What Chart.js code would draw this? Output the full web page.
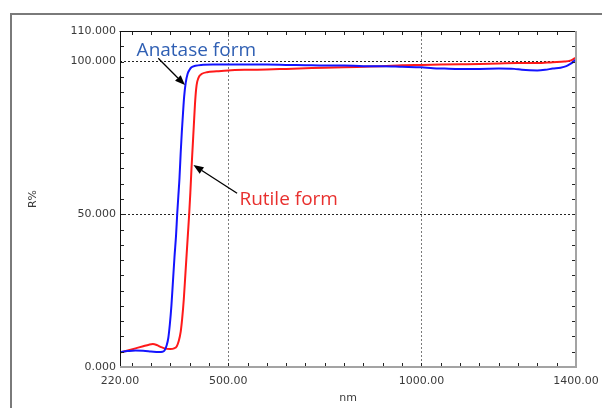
<!DOCTYPE html>
<html>
<head>
<meta charset="utf-8">
<script src="https://cdn.jsdelivr.net/npm/chart.js@4.4.0/dist/chart.umd.min.js"></script>
<style>
  html, body { margin: 0; padding: 0; background: #ffffff; overflow: hidden; }
  #wrap { position: relative; width: 602px; height: 408px; }
  #frame { position: absolute; left: 10px; top: 13px; width: 1000px; height: 1000px;
           border-left: 2px solid #7a7a7a; border-top: 2px solid #7a7a7a; box-sizing: border-box; }
  canvas { position: absolute; left: 0; top: 0; }
</style>
</head>
<body>
<div id="wrap">
  <div id="frame"></div>
  <canvas id="c" width="602" height="408"></canvas>
</div>
<script>
// ---- Data ----
const anataseNm = [220,240,260,280,300,320,330,336,341,345,349,353,357,361,365,368,371,374,377,380,383,386,390,395,400,405,415,430,460,500,550,600,650,700,750,800,850,900,950,1000,1030,1060,1100,1150,1200,1240,1260,1300,1320,1340,1360,1375,1385,1392,1400];
const anataseR  = [4.9,5.2,5.4,5.3,5.1,4.9,5.0,5.6,7.2,9.5,14,20,28,36,43,50,56,62,70,77,83,88.5,93,96,97.3,98.1,98.6,98.9,99.0,99.0,99.0,99.0,98.9,98.8,98.7,98.7,98.5,98.5,98.3,98.1,97.8,97.7,97.6,97.6,97.7,97.6,97.3,97.1,97.3,97.7,98.0,98.5,99.2,99.8,100.7];

const rutileNm = [220,240,260,280,295,305,315,325,335,350,360,367,372,377,381,385,389,393,396,399,402,405,408,411,414,417,420,425,432,445,470,500,550,600,650,700,750,800,850,900,950,1000,1050,1100,1150,1200,1250,1300,1340,1370,1385,1393,1400];
const rutileR  = [4.7,5.4,6.1,6.8,7.3,7.5,7.2,6.6,6.1,5.9,6.1,6.8,8.5,11.5,16,22,30,38,44,50,57,65,72,79,86,91,93.5,95.2,96.0,96.5,96.8,97.1,97.3,97.4,97.6,97.8,98.0,98.1,98.3,98.5,98.8,98.9,99.0,99.1,99.2,99.4,99.5,99.5,99.8,100.0,100.3,100.8,101.3];

// ---- Axes ----
const xTickValues = [220, 500, 1000, 1400];
const yTickValues = [0, 50, 100, 110];
const xGridValues = [500, 1000];
const yGridValues = [50, 100];
const xMinorStep = 50;
const yMinorStep = 5;

// ---- Annotations (data coordinates) ----
const annotations = [
  { text: 'Anatase form', color: '#2f5fb3', textNm: 263, textR: 101.8, tailNm: 319, tailR: 101.1, headNm: 388, headR: 92.3 },
  { text: 'Rutile form',  color: '#e8302e', textNm: 529, textR: 53.0,  tailNm: 523, tailR: 56.9,  headNm: 410, headR: 66.1 }
];

const toXY = (xs, ys) => xs.map((v, i) => ({ x: v, y: ys[i] }));

const axisFont = { family: 'DejaVu Sans', size: 11 };
const axisColor = '#3a3a3a';

const framePlugin = {
  id: 'framePlugin',
  afterDatasetsDraw(chart) {
    const { ctx, chartArea: a, scales: { x, y } } = chart;
    ctx.save();
    const seg = (x1, y1, x2, y2) => { ctx.beginPath(); ctx.moveTo(x1, y1); ctx.lineTo(x2, y2); ctx.stroke(); };
    // minor ticks (inward)
    ctx.strokeStyle = '#222';
    ctx.lineWidth = 1;
    for (let v = Math.ceil(x.min / xMinorStep) * xMinorStep; v < x.max; v += xMinorStep) {
      const px = Math.round(x.getPixelForValue(v)) + 0.5;
      seg(px, a.bottom, px, a.bottom - 4);
      seg(px, a.top, px, a.top + 4);
    }
    for (let v = yMinorStep; v < y.max; v += yMinorStep) {
      const py = Math.round(y.getPixelForValue(v)) + 0.5;
      seg(a.left, py, a.left + 4, py);
      seg(a.right, py, a.right - 4, py);
    }
    // borders
    ctx.strokeStyle = '#111';
    ctx.lineWidth = 1;
    seg(a.left - 0.5, Math.round(a.top) + 0.5, a.right, Math.round(a.top) + 0.5);
    seg(Math.round(a.left) + 0.5, a.top, Math.round(a.left) + 0.5, a.bottom);
    ctx.strokeStyle = '#a3a3a3';
    ctx.lineWidth = 2;
    seg(a.right, a.top, a.right, a.bottom + 1);
    seg(a.left, a.bottom, a.right + 1, a.bottom);

    // annotations
    annotations.forEach(an => {
      const tx = x.getPixelForValue(an.tailNm), ty = y.getPixelForValue(an.tailR);
      const hx = x.getPixelForValue(an.headNm), hy = y.getPixelForValue(an.headR);
      const ang = Math.atan2(hy - ty, hx - tx);
      const L = 10, W = 4;
      const bx = hx - L * Math.cos(ang), by = hy - L * Math.sin(ang);
      ctx.strokeStyle = '#000';
      ctx.fillStyle = '#000';
      ctx.lineWidth = 1.3;
      seg(tx, ty, bx, by);
      ctx.beginPath();
      ctx.moveTo(hx, hy);
      ctx.lineTo(bx + W * Math.sin(ang), by - W * Math.cos(ang));
      ctx.lineTo(bx - W * Math.sin(ang), by + W * Math.cos(ang));
      ctx.closePath();
      ctx.fill();
      ctx.font = '19px "Open Sans"';
      ctx.fillStyle = an.color;
      ctx.textAlign = 'left';
      ctx.textBaseline = 'alphabetic';
      ctx.fillText(an.text, x.getPixelForValue(an.textNm), y.getPixelForValue(an.textR));
    });
    ctx.restore();
  }
};

new Chart(document.getElementById('c'), {
  type: 'line',
  data: {
    datasets: [
      { label: 'Anatase form', data: toXY(anataseNm, anataseR), borderColor: '#1414ff', borderWidth: 2,
        pointRadius: 0, fill: false, cubicInterpolationMode: 'monotone' },
      { label: 'Rutile form', data: toXY(rutileNm, rutileR), borderColor: '#ff1a1a', borderWidth: 2,
        pointRadius: 0, fill: false, cubicInterpolationMode: 'monotone' }
    ]
  },
  options: {
    responsive: false,
    animation: false,
    devicePixelRatio: 1,
    layout: { padding: { left: 20, top: 31, right: 26, bottom: 0 } },
    plugins: { legend: { display: false }, tooltip: { enabled: false } },
    scales: {
      x: {
        type: 'linear', min: 220, max: 1400,
        afterBuildTicks: s => { s.ticks = xTickValues.map(v => ({ value: v })); },
        afterFit: s => { s.height = 41; s.paddingLeft = 0; s.paddingRight = 0; },
        ticks: { callback: v => Number(v).toFixed(2), font: axisFont, color: axisColor, padding: 8,
                 maxRotation: 0, autoSkip: false },
        grid: { color: c => (c.tick && xGridValues.includes(c.tick.value)) ? '#7a7a7a' : 'rgba(0,0,0,0)',
                drawTicks: false, lineWidth: 1 },
        border: { display: false, dash: [2, 2] },
        title: { display: true, text: 'nm', font: axisFont, color: axisColor, padding: { top: 0, bottom: 3 } }
      },
      y: {
        type: 'linear', min: 0, max: 110,
        afterBuildTicks: s => { s.ticks = yTickValues.map(v => ({ value: v })); },
        afterFit: s => { s.width = 100; s.paddingTop = 0; s.paddingBottom = 0; },
        ticks: { callback: v => Number(v).toFixed(3), font: axisFont, color: axisColor, padding: 4, autoSkip: false },
        grid: { color: c => (c.tick && yGridValues.includes(c.tick.value)) ? '#222' : 'rgba(0,0,0,0)',
                drawTicks: false, lineWidth: 1 },
        border: { display: false, dash: [2, 2] },
        title: { display: true, text: 'R%', font: axisFont, color: axisColor, padding: { top: 7, bottom: 0 } }
      }
    }
  },
  plugins: [framePlugin]
});
</script>
</body>
</html>
